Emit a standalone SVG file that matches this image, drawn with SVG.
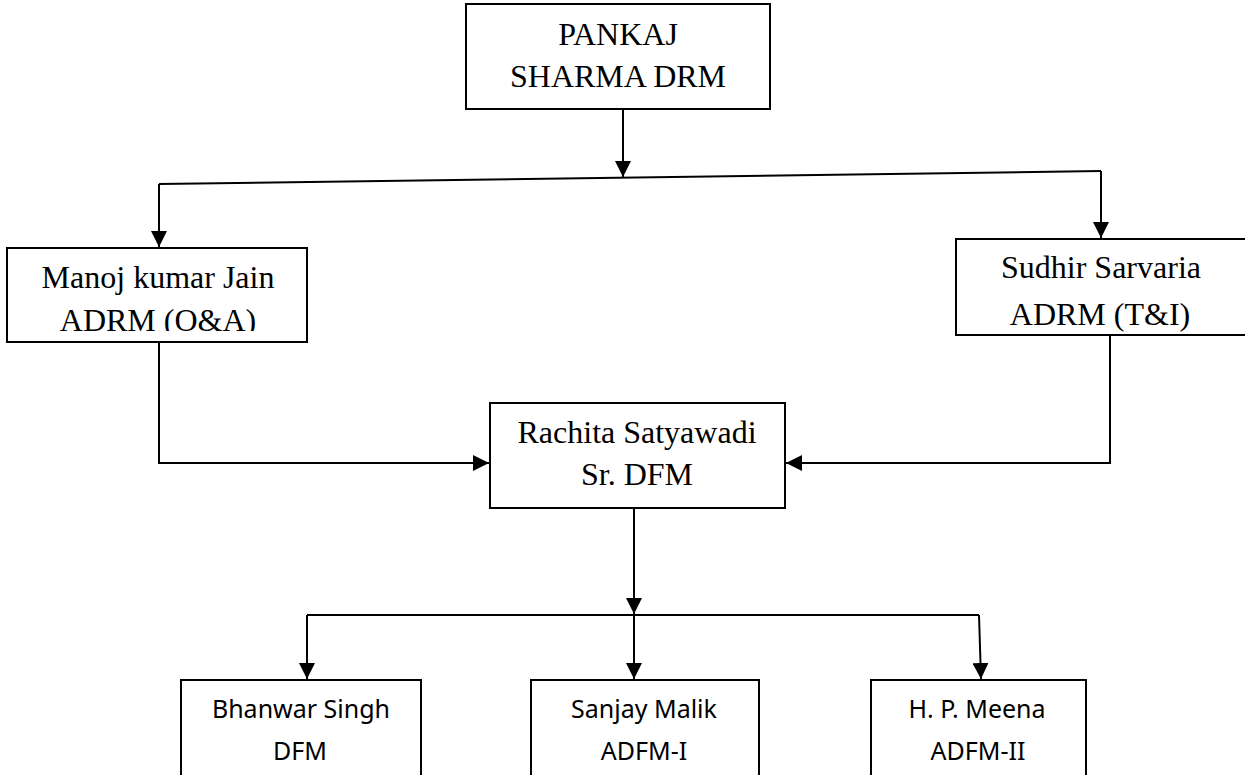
<svg xmlns="http://www.w3.org/2000/svg" width="1245" height="775" viewBox="0 0 1245 775">
<style>
.box{fill:#fff;stroke:#000;stroke-width:2}
.ser{font-family:"Liberation Serif","Times New Roman",serif;font-size:32px;fill:#000;text-anchor:middle}
.san{font-family:"Noto Sans","Open Sans",sans-serif;font-size:25px;fill:#000;text-anchor:middle}
.ln{fill:none;stroke:#000;stroke-width:2}
</style>
<defs>
<marker id="ah" markerUnits="userSpaceOnUse" markerWidth="17" markerHeight="16" refX="16" refY="8" orient="auto">
<path d="M0,0 L16,8 L0,16 Z" fill="#000"/>
</marker>
<clipPath id="clipManoj"><rect x="7" y="248" width="300" height="83"/></clipPath>
</defs>
<rect width="1245" height="775" fill="#fff"/>
<g id="connectors">
<path class="ln" d="M623,109 L623,177" marker-end="url(#ah)"/>
<path class="ln" d="M159,184 L1101,171"/>
<path class="ln" d="M159,184 L159,247" marker-end="url(#ah)"/>
<path class="ln" d="M1101,171 L1101,238" marker-end="url(#ah)"/>
<path class="ln" d="M159,342 L159,463 L489,463" marker-end="url(#ah)"/>
<path class="ln" d="M1110,335 L1110,463 L786,463" marker-end="url(#ah)"/>
<path class="ln" d="M634,508 L634,614" marker-end="url(#ah)"/>
<path class="ln" d="M307,615 L979,615"/>
<path class="ln" d="M307,615 L307,679" marker-end="url(#ah)"/>
<path class="ln" d="M634,615 L634,679" marker-end="url(#ah)"/>
<path class="ln" d="M979,615 L981,679" marker-end="url(#ah)"/>
</g>
<g id="node-pankaj">
<rect class="box" x="466" y="4" width="304" height="105"/>
<text class="ser" x="618" y="45">PANKAJ</text>
<text class="ser" x="618" y="87">SHARMA DRM</text>
</g>
<g id="node-manoj">
<rect class="box" x="7" y="248" width="300" height="94"/>
<text class="ser" x="158" y="288">Manoj kumar Jain</text>
<text class="ser" x="158" y="331" clip-path="url(#clipManoj)">ADRM (O&amp;A)</text>
</g>
<g id="node-sudhir">
<rect class="box" x="956" y="239" width="300" height="96"/>
<text class="ser" x="1101" y="278">Sudhir Sarvaria</text>
<text class="ser" x="1100" y="325">ADRM (T&amp;I)</text>
</g>
<g id="node-rachita">
<rect class="box" x="490" y="403" width="295" height="105"/>
<text class="ser" x="637" y="443">Rachita Satyawadi</text>
<text class="ser" x="637" y="485">Sr. DFM</text>
</g>
<g id="node-bhanwar">
<rect class="box" x="181" y="680" width="240" height="110"/>
<text class="san" x="301" y="718">Bhanwar Singh</text>
<text class="san" x="300" y="760">DFM</text>
</g>
<g id="node-sanjay">
<rect class="box" x="531" y="680" width="228" height="110"/>
<text class="san" x="644" y="718">Sanjay Malik</text>
<text class="san" x="644" y="760">ADFM-I</text>
</g>
<g id="node-meena">
<rect class="box" x="871" y="680" width="215" height="110"/>
<text class="san" x="977" y="718">H. P. Meena</text>
<text class="san" x="978" y="760">ADFM-II</text>
</g>
</svg>
